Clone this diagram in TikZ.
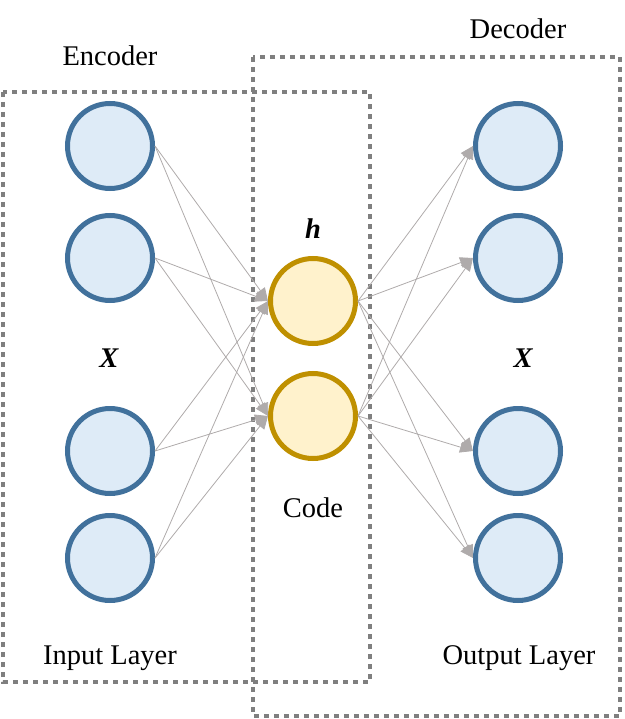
\documentclass[tikz,border=0pt]{standalone}
\usepackage{fontspec}
\setmainfont{Liberation Serif}
\usetikzlibrary{arrows.meta}
\definecolor{cblue}{HTML}{41719C}
\definecolor{cbluefill}{HTML}{DEEBF7}
\definecolor{cgold}{HTML}{BF9000}
\definecolor{cgoldfill}{HTML}{FFF2CC}
\definecolor{cgrey}{HTML}{7F7F7F}
\definecolor{cedge}{HTML}{AFABAB}
\tikzset{
  every picture/.style={font=\fontsize{28.5}{34}\selectfont},
  unit/.style={circle, draw=#1, fill=#1fill, line width=5pt, minimum size=85pt, inner sep=0pt},
  unit/.default=cblue,
  groupbox/.style={draw=cgrey, line width=4.4pt, dash pattern=on 5pt off 5pt},
  link/.style={-{Triangle[length=13pt, width=11pt]}, draw=cedge, line width=0.8pt},
  mathlabel/.style={font=\fontsize{28.5}{34}\selectfont\bfseries\itshape},
}

\begin{document}
\begin{tikzpicture}[x=1pt, y=-1pt]
  \useasboundingbox (0,0) rectangle (624,719);
  % encoder and decoder frames
  \draw[groupbox] (3,92) rectangle (370,682);
  \draw[groupbox] (253,57) rectangle (620,716);
  \node (enc) at (110,56) {Encoder};
  \node (dec) at (518,29) {Decoder};
  % layers
  \foreach \y [count=\i] in {146,258,451,558} {
    \node[unit] (in\i) at (110,\y) {};
    \node[unit] (out\i) at (518,\y) {};
  }
  \foreach \y [count=\i] in {301,416}
    \node[unit=cgold] (code\i) at (313,\y) {};
  % connections
  \foreach \i in {1,...,4}
    \foreach \j in {1,2} {
      \draw[link] (in\i.east) -- (code\j.west);
      \draw[link] (code\j.east) -- (out\i.west);
    }
  \node[mathlabel] (x1) at (109,358) {X};
  \node[mathlabel] (x2) at (523,358) {X};
  \node[mathlabel] (hlab) at (313,229) {h};
  \node (codelab) at (313,508) {Code};
  \node (inlab) at (110,658) {Input Layer};
  \node (outlab) at (519,658) {Output Layer};
\end{tikzpicture}
\end{document}
